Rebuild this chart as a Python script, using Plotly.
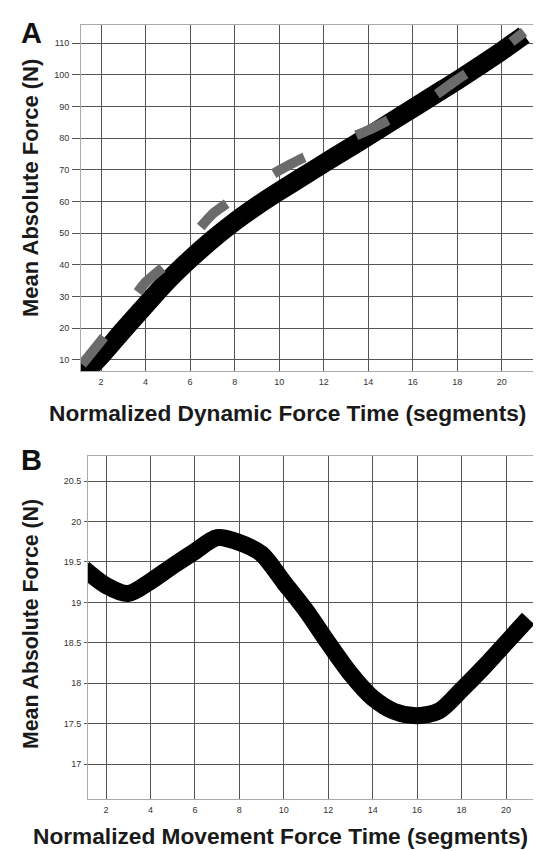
import plotly.graph_objects as go

W, H = 541, 851

# Panel A data
a_x = [1.0, 2, 3, 4, 5, 6, 7, 8, 9, 10, 11, 12, 13, 14, 15, 16, 17, 18, 19, 20, 21]
a_black = [4.0, 11.3, 19.4, 27.3, 35, 41.8, 48, 53.6, 58.6, 63.2, 67.6, 72, 76.3, 80.6, 85, 89.4, 93.8, 98.2, 102.8, 107.5, 112.5]
a_gray_x = [1.15, 2, 3, 4, 5, 6, 7, 8, 9, 10, 11, 12, 13, 14, 15, 16, 17, 18, 19, 20, 21]
a_gray = [8.6, 16, 25, 34.5, 40.5, 48, 56, 61, 65.5, 69.8, 73.5, 76.5, 79.5, 82.5, 86, 89.5, 93.5, 98.5, 103, 108, 113.5]

# Panel B data
b_x = [1, 2, 3, 4, 5, 6, 7, 8, 9, 10, 11, 12, 13, 14, 15, 16, 17, 18, 19, 20, 21]
b_y = [19.42, 19.21, 19.11, 19.26, 19.45, 19.63, 19.8, 19.74, 19.6, 19.25, 18.9, 18.5, 18.12, 17.82, 17.65, 17.6, 17.66, 17.92, 18.2, 18.5, 18.8]

x_ticks = [2, 4, 6, 8, 10, 12, 14, 16, 18, 20]
a_yticks = [10, 20, 30, 40, 50, 60, 70, 80, 90, 100, 110]
b_yticks = [17, 17.5, 18, 18.5, 19, 19.5, 20, 20.5]
b_yticklabels = ["17", "17.5", "18", "18.5", "19", "19.5", "20", "20.5"]

fig = go.Figure()
fig.add_trace(go.Scatter(x=a_x, y=a_black, mode="lines",
                         line=dict(color="#000000", width=19, shape="spline", smoothing=0.8),
                         xaxis="x", yaxis="y", showlegend=False))
fig.add_trace(go.Scatter(x=a_gray_x, y=a_gray, mode="lines",
                         line=dict(color="#6b6b6b", width=10, dash="35px,56px", shape="spline", smoothing=0.6),
                         xaxis="x", yaxis="y", showlegend=False))
fig.add_trace(go.Scatter(x=b_x, y=b_y, mode="lines",
                         line=dict(color="#000000", width=17, shape="spline", smoothing=0.8),
                         xaxis="x2", yaxis="y2", showlegend=False))

def px_x(p):
    return p / W

def px_y(p):
    return 1 - p / H

tickfont = dict(family="Liberation Sans, Arial, sans-serif", size=9, color="#333333")
grid = dict(showgrid=True, gridcolor="#555555", gridwidth=1, zeroline=False,
            showline=True, linecolor="#aaaaaa", linewidth=1, mirror=True, tickfont=tickfont)

fig.update_layout(
    width=W, height=H, margin=dict(l=0, r=0, t=0, b=0),
    paper_bgcolor="white", plot_bgcolor="white",
    xaxis=dict(domain=[px_x(73), px_x(525)], range=[1.1, 21.4], anchor="y",
               tickvals=x_ticks, ticks="", ticklabelstandoff=2, **grid),
    yaxis=dict(domain=[px_y(363), px_y(17)], range=[6.5, 115.7], anchor="x",
               tickvals=a_yticks, ticks="outside", ticklen=8, tickcolor="#555555", ticklabelstandoff=1, **grid),
    xaxis2=dict(domain=[px_x(80), px_x(528)], range=[1.19, 21.35], anchor="y2",
                tickvals=x_ticks, ticks="", ticklabelstandoff=2, **grid),
    yaxis2=dict(domain=[px_y(791), px_y(448)], range=[16.57, 20.81], anchor="x2",
                tickvals=b_yticks, ticktext=b_yticklabels, ticks="outside", ticklen=3,
                tickcolor="#555555", ticklabelstandoff=1, **grid),
)

FAM = "Liberation Sans, Arial, sans-serif"
xtitle_font = dict(family=FAM, size=22.7, color="#1a1a1a", weight="bold")
ytitle_font_a = dict(family=FAM, size=22, color="#1a1a1a", weight="bold")
ytitle_font_b = dict(family=FAM, size=21.3, color="#1a1a1a", weight="bold")
label_font = dict(family=FAM, size=29, color="#111111", weight="bold")

ann = [
    dict(text="A", x=px_x(23), y=px_y(25), font=label_font),
    dict(text="B", x=px_x(23), y=px_y(452), font=label_font),
    dict(text="Normalized Dynamic Force Time (segments)", x=px_x(279), y=px_y(405), font=xtitle_font),
    dict(text="Normalized Movement Force Time (segments)", x=px_x(272), y=px_y(828), font=xtitle_font),
    dict(text="Mean Absolute Force (N)", x=px_x(23), y=px_y(180), font=ytitle_font_a, textangle=-90),
    dict(text="Mean Absolute Force (N)", x=px_x(23), y=px_y(616), font=ytitle_font_b, textangle=-90),
]
for a in ann:
    a.update(xref="paper", yref="paper", showarrow=False, xanchor="center", yanchor="middle")
    fig.add_annotation(**a)

fig.write_html("out.html")
